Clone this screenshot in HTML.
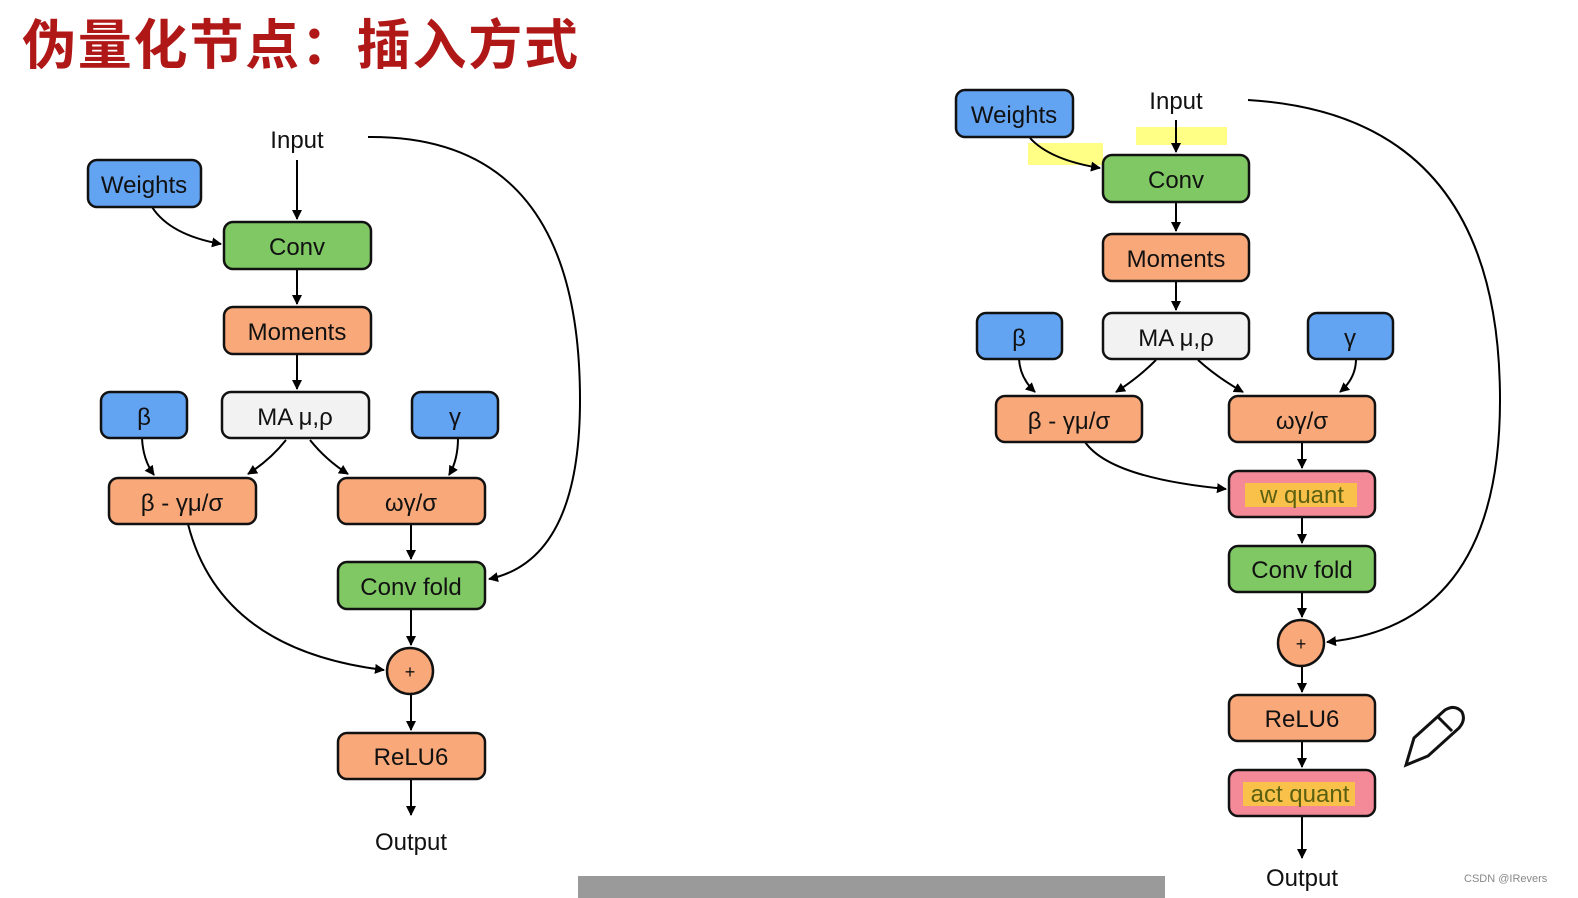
<!DOCTYPE html>
<html><head><meta charset="utf-8"><style>
body{margin:0;background:#fff;width:1578px;height:898px;overflow:hidden;position:relative}
svg{position:absolute;left:0;top:0}
text{font-family:"Liberation Sans","DejaVu Sans",sans-serif}
</style></head><body>
<svg width="1578" height="898" viewBox="0 0 1578 898">
<defs><marker id="a" markerWidth="10" markerHeight="10" refX="9" refY="5" orient="auto" markerUnits="userSpaceOnUse"><path d="M0,0 L10,5 L0,10 z" fill="#000"/></marker></defs>
<text x="22" y="64" font-size="54" font-weight="bold" fill="#b01818" style="font-family:'Noto Sans CJK SC',sans-serif" textLength="556">伪量化节点：插入方式</text>
<rect x="1028" y="143" width="75" height="22" fill="#ffff66" opacity="0.8"/>
<rect x="1136" y="127" width="91" height="18" fill="#ffff66" opacity="0.8"/>
<g stroke="#000" stroke-width="2" fill="none" marker-end="url(#a)">
<!-- left -->
<line x1="297" y1="160" x2="297" y2="219"/>
<path d="M152,207 Q170,235 221,244"/>
<line x1="297" y1="269" x2="297" y2="304"/>
<line x1="297" y1="354" x2="297" y2="389"/>
<path d="M142,438 Q143,460 154,475"/>
<path d="M286,440 Q270,460 248,474"/>
<path d="M310,440 Q326,460 348,474"/>
<path d="M458,438 Q458,460 449,475"/>
<line x1="411" y1="524" x2="411" y2="559"/>
<line x1="411" y1="609" x2="411" y2="645"/>
<line x1="411" y1="694" x2="411" y2="730"/>
<line x1="411" y1="779" x2="411" y2="815"/>
<path d="M188,524 Q220,650 384,670"/>
<path d="M368,137 Q580,135 580,400 Q580,560 489,579"/>
<!-- right -->
<line x1="1176" y1="120" x2="1176" y2="152"/>
<path d="M1030,138 Q1050,160 1100,168"/>
<line x1="1176" y1="202" x2="1176" y2="231"/>
<line x1="1176" y1="281" x2="1176" y2="310"/>
<path d="M1019,359 Q1020,378 1035,392"/>
<path d="M1156,360 Q1138,378 1116,392"/>
<path d="M1198,360 Q1218,378 1243,392"/>
<path d="M1356,359 Q1356,378 1340,392"/>
<line x1="1302" y1="442" x2="1302" y2="468"/>
<line x1="1302" y1="517" x2="1302" y2="543"/>
<line x1="1302" y1="592" x2="1302" y2="617"/>
<line x1="1302" y1="666" x2="1302" y2="692"/>
<line x1="1302" y1="741" x2="1302" y2="767"/>
<line x1="1302" y1="816" x2="1302" y2="858"/>
<path d="M1085,442 Q1110,478 1226,489"/>
<path d="M1248,100 Q1500,115 1500,400 Q1500,625 1327,642"/>
</g>
<g stroke="#111" stroke-width="2.5">
<rect x="88" y="160" width="113" height="47" rx="9" fill="#62a3f2"/>
<rect x="224" y="222" width="147" height="47" rx="9" fill="#7fc864"/>
<rect x="224" y="307" width="147" height="47" rx="9" fill="#f9a87a"/>
<rect x="222" y="392" width="147" height="46" rx="9" fill="#f2f2f2"/>
<rect x="101" y="392" width="86" height="46" rx="9" fill="#62a3f2"/>
<rect x="412" y="392" width="86" height="46" rx="9" fill="#62a3f2"/>
<rect x="109" y="478" width="147" height="46" rx="9" fill="#f9a87a"/>
<rect x="338" y="478" width="147" height="46" rx="9" fill="#f9a87a"/>
<rect x="338" y="562" width="147" height="47" rx="9" fill="#7fc864"/>
<circle cx="410" cy="671" r="23" fill="#f9a87a"/>
<rect x="338" y="733" width="147" height="46" rx="9" fill="#f9a87a"/>
<rect x="956" y="90" width="117" height="47" rx="9" fill="#62a3f2"/>
<rect x="1103" y="155" width="146" height="47" rx="9" fill="#7fc864"/>
<rect x="1103" y="234" width="146" height="47" rx="9" fill="#f9a87a"/>
<rect x="1103" y="313" width="146" height="46" rx="9" fill="#f2f2f2"/>
<rect x="977" y="313" width="85" height="46" rx="9" fill="#62a3f2"/>
<rect x="1308" y="313" width="85" height="46" rx="9" fill="#62a3f2"/>
<rect x="996" y="396" width="146" height="46" rx="9" fill="#f9a87a"/>
<rect x="1229" y="396" width="146" height="46" rx="9" fill="#f9a87a"/>
<rect x="1229" y="471" width="146" height="46" rx="9" fill="#f48a98"/>
<rect x="1229" y="546" width="146" height="46" rx="9" fill="#7fc864"/>
<circle cx="1301" cy="643" r="23" fill="#f9a87a"/>
<rect x="1229" y="695" width="146" height="46" rx="9" fill="#f9a87a"/>
<rect x="1229" y="770" width="146" height="46" rx="9" fill="#f48a98"/>
</g>
<rect x="1245" y="483" width="112" height="24" fill="#f9c04a"/>
<rect x="1243" y="782" width="112" height="24" fill="#f9c04a"/>
<g font-size="24" text-anchor="middle" fill="#111">
<text x="297" y="148">Input</text>
<text x="144" y="193">Weights</text>
<text x="297" y="255">Conv</text>
<text x="297" y="340">Moments</text>
<text x="295" y="425">MA μ,ρ</text>
<text x="144" y="425">β</text>
<text x="455" y="425">γ</text>
<text x="182" y="511">β - γμ/σ</text>
<text x="411" y="511">ωγ/σ</text>
<text x="411" y="595">Conv fold</text>
<text x="410" y="678" font-size="18">+</text>
<text x="411" y="765">ReLU6</text>
<text x="411" y="850">Output</text>
<text x="1176" y="109">Input</text>
<text x="1014" y="123">Weights</text>
<text x="1176" y="188">Conv</text>
<text x="1176" y="267">Moments</text>
<text x="1176" y="346">MA μ,ρ</text>
<text x="1019" y="346">β</text>
<text x="1350" y="346">γ</text>
<text x="1069" y="429">β - γμ/σ</text>
<text x="1302" y="429">ωγ/σ</text>
<text x="1302" y="503" fill="#5a6010">w quant</text>
<text x="1302" y="578">Conv fold</text>
<text x="1301" y="650" font-size="18">+</text>
<text x="1302" y="727">ReLU6</text>
<text x="1300" y="802" fill="#5a6010">act quant</text>
<text x="1302" y="886">Output</text>
</g>
<text x="1464" y="882" font-size="11" fill="#888">CSDN @IRevers</text>
<g stroke="#111" stroke-width="3" fill="#fff">
<path d="M1406,765 L1414,738 L1445,710 Q1455,704 1462,712 Q1466,720 1459,728 L1428,756 Z"/>
<line x1="1438" y1="717" x2="1452" y2="731"/>
</g>
<rect x="578" y="876" width="587" height="22" fill="#9a9a9a"/>
</svg>
</body></html>
